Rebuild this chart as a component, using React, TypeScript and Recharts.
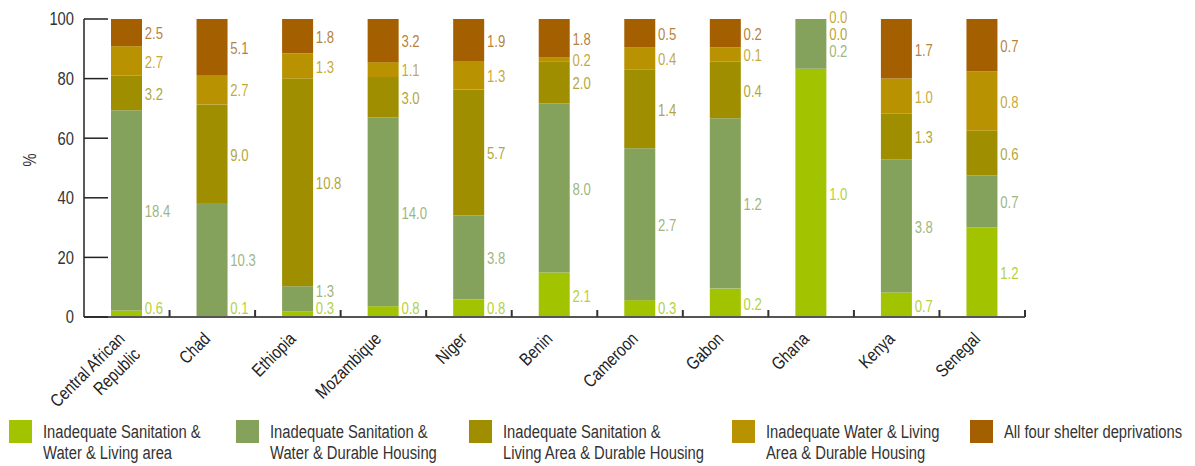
import { ComposedChart, Bar, Line, XAxis, YAxis, Legend, LabelList } from "recharts";

const categories = [
  "Central African Republic",
  "Chad",
  "Ethiopia",
  "Mozambique",
  "Niger",
  "Benin",
  "Cameroon",
  "Gabon",
  "Ghana",
  "Kenya",
  "Senegal",
];

// absolute values shown beside each segment; bar heights are their share of the total
const sanWaterLiving = [0.6, 0.1, 0.3, 0.8, 0.8, 2.1, 0.3, 0.2, 1.0, 0.7, 1.2];
const sanWaterHousing = [18.4, 10.3, 1.3, 14.0, 3.8, 8.0, 2.7, 1.2, 0.2, 3.8, 0.7];
const sanLivingHousing = [3.2, 9.0, 10.8, 3.0, 5.7, 2.0, 1.4, 0.4, 0.0, 1.3, 0.6];
const waterLivingHousing = [2.7, 2.7, 1.3, 1.1, 1.3, 0.2, 0.4, 0.1, 0.0, 1.0, 0.8];
const allFour: (number | null)[] = [2.5, 5.1, 1.8, 3.2, 1.9, 1.8, 0.5, 0.2, null, 1.7, 0.7];

const yTicks = [0, 20, 40, 60, 80, 100];

const seriesNames = [
  "Inadequate Sanitation & Water & Living area",
  "Inadequate Sanitation & Water & Durable Housing",
  "Inadequate Sanitation & Living Area & Durable Housing",
  "Inadequate Water & Living Area & Durable Housing",
  "All four shelter deprivations",
];
const legendLines = [
  ["Inadequate Sanitation &", "Water & Living area"],
  ["Inadequate Sanitation &", "Water & Durable Housing"],
  ["Inadequate Sanitation &", "Living Area & Durable Housing"],
  ["Inadequate Water & Living", "Area & Durable Housing"],
  ["All four shelter deprivations"],
];
const colors = ["#a2c400", "#84a25c", "#9e8e00", "#b89200", "#a35f00"];

// no condensed face installed, so squeeze Liberation Sans horizontally
const FONT = "'Liberation Sans', Arial, sans-serif";
const SQ = 0.82;
const W = 1195;
const H = 466;
const PLOT_LEFT = 84;
const PLOT_RIGHT = 1025;
const BAND = (PLOT_RIGHT - PLOT_LEFT) / categories.length;

const series = [sanWaterLiving, sanWaterHousing, sanLivingHousing, waterLivingHousing, allFour];

// place labels at segment middles, then nudge them apart so they don't collide
function labelSpots(vals: (number | null)[]) {
  const total = vals.reduce<number>((a, v) => a + (v ?? 0), 0);
  let acc = 0;
  const spots: (number | null)[] = vals.map((v) => {
    if (v == null) return null;
    const p = (v / total) * 100;
    const c = acc + p / 2;
    acc += p;
    return c;
  });
  const gap = 5.6;
  let prev = -Infinity;
  for (let i = 0; i < spots.length; i++) {
    const s = spots[i];
    if (s == null) continue;
    const n = Math.max(s, 3.3, prev + gap);
    spots[i] = n;
    prev = n;
  }
  let next = Infinity;
  for (let i = spots.length - 1; i >= 0; i--) {
    const s = spots[i];
    if (s == null) continue;
    const n = Math.min(s, 100.8, next - gap);
    spots[i] = n;
    next = n;
  }
  return spots;
}

const data = categories.map((name, i) => {
  const vals = series.map((s) => s[i]);
  const total = vals.reduce<number>((a, v) => a + (v ?? 0), 0);
  const spots = labelSpots(vals);
  const row: Record<string, any> = { name };
  vals.forEach((v, k) => {
    row[`v${k}`] = v;
    row[`p${k}`] = v == null ? 0 : (v / total) * 100;
    row[`l${k}`] = spots[k];
  });
  return row;
});

function ValueLabel(k: number) {
  return (props: any) => {
    const { x, y, index } = props;
    const v = data[index]?.[`v${k}`];
    if (v == null || y == null || isNaN(y)) return null;
    return (
      <text
        transform={`translate(${x + 18},${y + 1}) scale(${SQ},1)`}
        dy="0.36em"
        fill={colors[k]}
        fillOpacity={0.8}
        fontSize={16}
        fontFamily={FONT}
      >
        {v.toFixed(1)}
      </text>
    );
  };
}

function CountryTick(props: any) {
  const { x, y, payload } = props;
  const label: string = payload.value;
  const lines = label === "Central African Republic" ? ["Central African", "Republic"] : [label];
  return (
    <g transform={`translate(${x},${y})`}>
      <line x1={BAND / 2} x2={BAND / 2} y1={0} y2={-7} stroke="#333" strokeWidth={2} />
      <g transform={`translate(-1,23) rotate(-45) scale(${SQ},1)`}>
        <text textAnchor="end" fill="#222" fontSize={18} fontFamily={FONT}>
          {lines.map((ln, i) => (
            <tspan key={i} x={0} dy={i === 0 ? 0 : 22}>
              {ln}
            </tspan>
          ))}
        </text>
      </g>
    </g>
  );
}

function PctTick(props: any) {
  const { x, y, payload } = props;
  return (
    <g>
      <line x1={PLOT_LEFT} x2={PLOT_LEFT + 24} y1={y} y2={y} stroke="#222" strokeWidth={1.5} />
      <text
        transform={`translate(${x},${y}) scale(${SQ},1)`}
        dy="0.36em"
        textAnchor="end"
        fill="#333"
        fontSize={18}
        fontFamily={FONT}
      >
        {payload.value}
      </text>
    </g>
  );
}

function PercentTitle(props: any) {
  const vb = props.viewBox || { y: 19, height: 298 };
  return (
    <text
      transform={`translate(30,${vb.y + vb.height / 2 - 8}) rotate(-90) scale(${SQ},1)`}
      textAnchor="middle"
      dy="0.36em"
      fill="#333"
      fontSize={18}
      fontFamily={FONT}
    >
      %
    </text>
  );
}

const legendX = [9, 236, 469, 732, 970];

function LegendBox() {
  return (
    <div style={{ position: "relative", width: W, height: 54, fontFamily: FONT }}>
      {seriesNames.map((n, k) => (
        <div key={n} style={{ position: "absolute", left: legendX[k], top: 8 }}>
          <div style={{ position: "absolute", left: 0, top: 0, width: 23, height: 23, background: colors[k] }} />
          <div
            style={{
              position: "absolute",
              left: 34,
              top: 2,
              whiteSpace: "nowrap",
              fontSize: 18,
              lineHeight: "21px",
              color: "#333",
              transform: `scaleX(${SQ})`,
              transformOrigin: "left top",
            }}
          >
            {legendLines[k].map((ln) => (
              <div key={ln}>{ln}</div>
            ))}
          </div>
        </div>
      ))}
    </div>
  );
}

export default function App() {
  return (
    <div style={{ position: "absolute", left: 0, top: 0, width: W, height: H, background: "#fff" }}>
      <ComposedChart
        width={W}
        height={H}
        data={data}
        margin={{ top: 19, right: W - PLOT_RIGHT, bottom: 0, left: 0 }}
        barCategoryGap={0}
      >
        <XAxis
          dataKey="name"
          interval={0}
          height={95}
          tickSize={0}
          tickMargin={0}
          tick={<CountryTick />}
          axisLine={{ stroke: "#555", strokeWidth: 2 }}
          tickLine={false}
        />
        <YAxis
          width={PLOT_LEFT}
          domain={[0, 100]}
          ticks={yTicks}
          allowDataOverflow
          tickSize={0}
          tickMargin={10}
          tick={<PctTick />}
          tickLine={false}
          axisLine={{ stroke: "#222", strokeWidth: 1.5 }}
          label={<PercentTitle />}
        />
        <Legend verticalAlign="bottom" height={54} content={() => <LegendBox />} />
        {seriesNames.map((n, k) => (
          <Bar key={n} dataKey={`p${k}`} name={n} stackId="a" fill={colors[k]} barSize={31} isAnimationActive={false} />
        ))}
        {seriesNames.map((n, k) => (
          <Line
            key={`l${k}`}
            dataKey={`l${k}`}
            stroke="none"
            dot={false}
            activeDot={false}
            legendType="none"
            isAnimationActive={false}
            connectNulls={false}
          >
            <LabelList dataKey={`l${k}`} content={ValueLabel(k)} />
          </Line>
        ))}
      </ComposedChart>
    </div>
  );
}
